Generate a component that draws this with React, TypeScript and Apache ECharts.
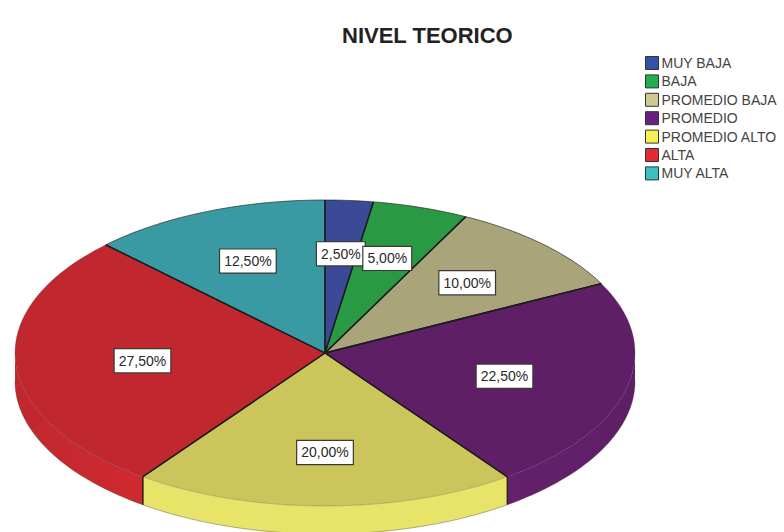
import React, { useEffect, useRef } from "react";
import * as echarts from "echarts";

const categories = ["MUY BAJA", "BAJA", "PROMEDIO BAJA", "PROMEDIO", "PROMEDIO ALTO", "ALTA", "MUY ALTA"];
const percentages = [2.5, 5, 10, 22.5, 20, 27.5, 12.5];
const topColors = ["#3A4A97", "#2A9944", "#A9A47A", "#5E1F66", "#CCC55B", "#C1272E", "#3A9AA3"];
const sideColors = ["#45579F", "#30A04C", "#B5B085", "#672070", "#E8E46A", "#D42B31", "#42A6AE"];
const legendColors = ["#3352A8", "#22AE4A", "#CFCB8E", "#6A1F80", "#F8EE55", "#E42A30", "#3CBFC0"];

const CX = 325;
const CY = 353;
const RX = 310;
const RY = 153;
const DEPTH = 28;
const LABEL_RADIUS = 0.65;

const pt = (deg: number, f = 1, dy = 0): number[] => {
  const a = (deg * Math.PI) / 180;
  return [CX + RX * f * Math.sin(a), CY - RY * f * Math.cos(a) + dy];
};

const arc = (from: number, to: number, dy = 0): number[][] => {
  const n = Math.max(2, Math.ceil((to - from) / 1.5));
  const out: number[][] = [];
  for (let i = 0; i <= n; i++) out.push(pt(from + ((to - from) * i) / n, 1, dy));
  return out;
};

const labelPoint = (deg: number): number[] => {
  const a = (deg * Math.PI) / 180;
  const s = Math.abs(Math.sin(a));
  const fx = LABEL_RADIUS - 0.06 * Math.max(0, (s - 0.7) / 0.3);
  return [CX + RX * fx * Math.sin(a), CY - RY * LABEL_RADIUS * Math.cos(a)];
};

const makeRender = (index: number) => (_params: any, api: any) => {
  const total = percentages.reduce((s, v) => s + v, 0);
  const before = percentages.slice(0, index).reduce((s, v) => s + v, 0);
  const value = api.value(0);
  const start = (before / total) * 360;
  const end = ((before + value) / total) * 360;
  const children: any[] = [];
  const sFrom = Math.max(start, 90);
  const sTo = Math.min(end, 270);
  if (sTo > sFrom) {
    // The yellow front of the rim spans the middle of the ellipse; only the
    // far ends of the rim (red and purple) fade towards the top colour.
    const fill =
      sFrom > 120 && sTo < 240
        ? sideColors[index]
        : new echarts.graphic.LinearGradient(
            CX - RX, 0, CX + RX, 0,
            [
              { offset: 0, color: topColors[index] },
              { offset: 0.28, color: sideColors[index] },
              { offset: 0.72, color: sideColors[index] },
              { offset: 1, color: topColors[index] },
            ],
            true
          );
    children.push({
      type: "polygon",
      shape: { points: [...arc(sFrom, sTo), ...arc(sFrom, sTo, DEPTH).reverse()] },
      style: { fill, stroke: null },
    });
    children.push({
      type: "polyline",
      shape: { points: arc(sFrom, sTo, DEPTH) },
      style: { fill: null, stroke: "rgba(60,50,40,0.55)", lineWidth: 0.7 },
    });
    [start, end].forEach((edge) => {
      if (edge > 90 && edge < 270) {
        children.push({
          type: "line",
          shape: { x1: pt(edge)[0], y1: pt(edge)[1], x2: pt(edge)[0], y2: pt(edge)[1] + DEPTH },
          style: { stroke: "#2a1a14", lineWidth: 1.2 },
        });
      }
    });
  }
  children.push({
    type: "polygon",
    shape: { points: [[CX, CY], ...arc(start, end)] },
    style: { fill: topColors[index], stroke: null },
  });
  children.push({
    type: "polyline",
    shape: { points: arc(start, end) },
    style: { fill: null, stroke: end <= 90 || start >= 270 ? "rgba(30,30,30,0.8)" : "rgba(60,50,40,0.3)", lineWidth: 0.8 },
  });
  children.push({
    type: "polyline",
    z2: 5,
    shape: { points: [pt(start), [CX, CY], pt(end)] },
    style: { fill: null, stroke: "#1c1c1c", lineWidth: 1.3, lineJoin: "round" },
  });
  const [lx, ly] = labelPoint((start + end) / 2);
  children.push({
    type: "text",
    z2: 10,
    x: lx,
    y: ly,
    style: {
      text: value.toFixed(2).replace(".", ",") + "%",
      font: "14px 'Liberation Sans'",
      fill: "#2a2a2a",
      align: "center",
      verticalAlign: "middle",
      backgroundColor: "#ffffff",
      borderColor: "#3a3a32",
      borderWidth: 1.2,
      padding: [5, 4, 4, 4],
    },
  });
  return { type: "group", children };
};

export default function App() {
  const ref = useRef<HTMLDivElement>(null);
  useEffect(() => {
    const chart = echarts.init(ref.current!, undefined, { renderer: "svg" });
    chart.setOption({
      animation: false,
      backgroundColor: "#ffffff",
      title: {
        text: "NIVEL TEORICO",
        left: 342,
        top: 24,
        padding: 0,
        textStyle: { fontFamily: "Liberation Sans", fontWeight: "bold", fontSize: 22, color: "#222222" },
      },
      legend: {
        orient: "vertical",
        left: 645,
        top: 56,
        icon: "rect",
        itemWidth: 13,
        itemHeight: 13,
        itemGap: 4.4,
        padding: 0,
        selectedMode: false,
        textStyle: { fontFamily: "Liberation Sans", fontSize: 14, color: "#444444", padding: [0, 0, 0, -2] },
        itemStyle: { borderColor: "#333333", borderWidth: 1 },
        data: categories,
      },
      series: categories.map((name, i) => ({
        type: "custom",
        name,
        coordinateSystem: "none",
        silent: true,
        clip: false,
        itemStyle: { color: legendColors[i] },
        data: [[percentages[i]]],
        encode: { value: 0 },
        renderItem: makeRender(i),
      })),
    });
    return () => chart.dispose();
  }, []);
  return <div ref={ref} style={{ position: "fixed", left: 0, top: 0, width: 784, height: 532 }} />;
}
